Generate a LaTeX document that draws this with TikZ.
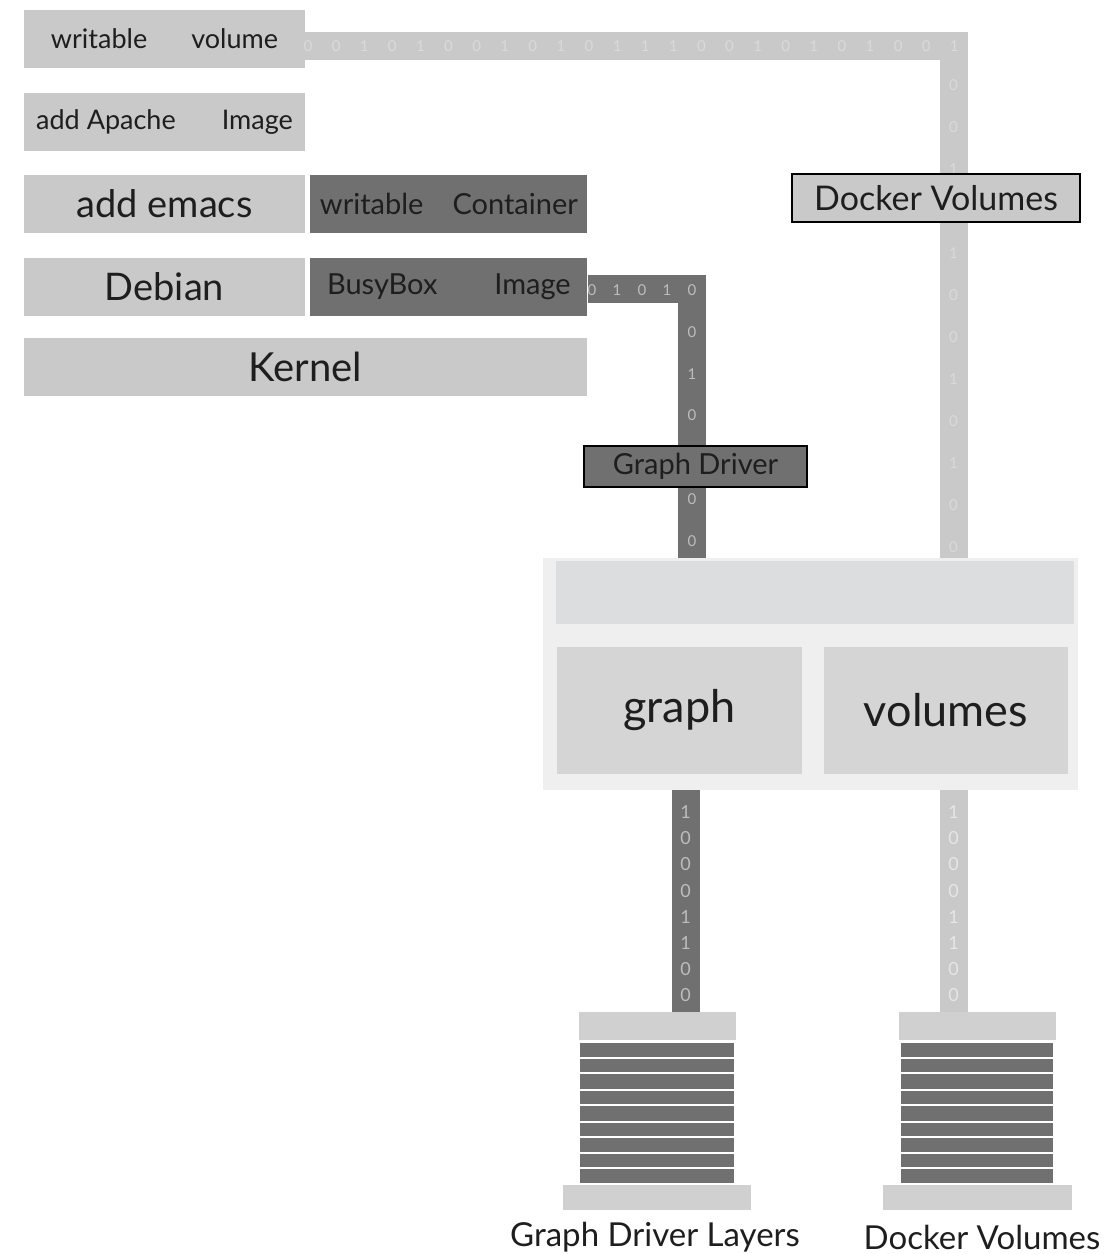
\documentclass[tikz,border=0pt]{standalone}
\usepackage{fontspec}
\setmainfont{Lato}
\usetikzlibrary{positioning}

\definecolor{layerlight}{HTML}{C9C9C9}
\definecolor{layerdark}{HTML}{707070}
\definecolor{hostbg}{HTML}{EFEFEF}
\definecolor{hostbar}{HTML}{DCDDDF}
\definecolor{hostdir}{HTML}{D5D5D5}
\definecolor{stackcap}{HTML}{D0D0D0}
\definecolor{inkgray}{HTML}{1E1E1E}
\definecolor{bitlight}{HTML}{DADADA}
\definecolor{bitpale}{HTML}{E6E6E6}
\definecolor{bitdark}{HTML}{BDBDBD}

\newcommand{\fsz}[1]{\fontsize{#1}{#1}\selectfont}

\tikzset{
  layer/.style={
    rectangle,
    inner sep=0pt,
    minimum height=58pt,
    fill=layerlight,
    text=inkgray,
  },
  layer dark/.style={layer, fill=layerdark},
  tag box/.style={
    rectangle,
    draw=black,
    line width=1.6pt,
    inner sep=0pt,
    text=inkgray,
  },
  host dir/.style={rectangle, inner sep=0pt, fill=hostdir, text=inkgray, font=\fsz{45}},
  stack cap/.style={rectangle, inner sep=0pt, fill=stackcap},
  stack body/.style={rectangle, inner sep=0pt, fill=layerdark},
  bus light/.style={draw=layerlight, line width=28pt},
  bus dark/.style={draw=layerdark, line width=28pt},
  bit light/.style={inner sep=0pt, text=bitlight, font=\fsz{15}},
  bit dark/.style={inner sep=0pt, text=bitdark, font=\fsz{15}},
  caption/.style={inner sep=0pt, text=inkgray, font=\fsz{33}},
}

\begin{document}
\begin{tikzpicture}[x=1pt,y=-1pt]
  \useasboundingbox (0,0) rectangle (1116,1254);

  % image layers
  \node[layer, minimum width=281pt, font=\fsz{27}] (wvol) at (164.5,39) {writable\hspace{44pt}volume};
  \node[layer, minimum width=281pt, font=\fsz{27}] (apache) at (164.5,122) {add Apache\hspace{46pt}Image};
  \node[layer, minimum width=281pt, font=\fsz{38}] (emacs) at (164.5,203.5) {add emacs};
  \node[layer, minimum width=281pt, font=\fsz{38}] (debian) at (164.5,286.5) {Debian};
  \node[layer, minimum width=563pt, font=\fsz{40}] (kernel) at (305.5,367) {Kernel};
  \node[layer dark, minimum width=277pt, font=\fsz{29}, right=5pt of emacs] (wcont) {writable\hspace{29pt}Container};
  \node[layer dark, minimum width=277pt, font=\fsz{29}, right=5pt of debian] (bbox) {BusyBox\hspace{57pt}Image};

  % docker host
  \node[rectangle, inner sep=0pt, fill=hostbg, minimum width=535pt, minimum height=232pt] (host) at (810.5,674) {};
  \node[rectangle, inner sep=0pt, fill=hostbar, minimum width=518pt, minimum height=63pt] (hbar) at (815,592.5) {};
  \node[host dir, minimum width=245pt, minimum height=127pt] (graph) at (679.5,710.5) {graph};
  \node[host dir, minimum width=244pt, minimum height=127pt] (vols) at (946,710.5) {volumes};

  % storage stacks
  \node[stack cap, minimum width=157pt, minimum height=28pt] (gcap) at (657.5,1026) {};
  \node[stack body, minimum width=154pt, minimum height=140pt] (glay) at (657,1113) {};
  \node[stack cap, minimum width=188pt, minimum height=25pt] (gbase) at (657,1197.5) {};
  \node[stack cap, minimum width=157pt, minimum height=28pt] (vcap) at (977.5,1026) {};
  \node[stack body, minimum width=152pt, minimum height=140pt] (vlay) at (977,1113) {};
  \node[stack cap, minimum width=189pt, minimum height=25pt] (vbase) at (977.5,1197.5) {};
  \foreach \s in {1058,1073,1090,1105,1122,1137,1153,1168} {
    \draw[white, line width=1.8pt] (glay.west |- 0,\s) -- (glay.east |- 0,\s);
    \draw[white, line width=1.8pt] (vlay.west |- 0,\s) -- (vlay.east |- 0,\s);
  }
  \node[caption] (gcaption) at (655,1237) {Graph Driver Layers};
  \node[caption] (vcaption) at (982,1237) {Docker Volumes};

  % data buses
  \coordinate (vcol) at (953.5,0);
  \coordinate (gcol) at (692,0);
  \coordinate (glow) at (685.5,0);
  \draw[bus light] ([yshift=-7pt]wvol.east) -| (host.north -| vcol);
  \draw[bus dark] ([yshift=-2.5pt]bbox.east) -| (host.north -| gcol);
  \draw[bus dark] (host.south -| glow) -- (gcap.north -| glow);
  \draw[bus light] (host.south -| vcol) -- (vcap.north -| vcol);

  \foreach \b [count=\i from 0] in {0,0,1,0,1,0,0,1,0,1,0,1,1,1,0,0,1,0,1,0,1,0,0,1}
    \node[bit light] (th\i) at (308+28.1*\i,46) {\b};
  \foreach \y/\b [count=\i] in {85.5/0,127.5/0,169.5/1,253.5/1,295.5/0,337.5/0,379.5/1,421.5/0,463.5/1,505.5/0,547.5/0}
    \node[bit light] (tv\i) at (953.5,\y) {\b};
  \foreach \b [count=\i from 0] in {0,1,0,1}
    \node[bit dark] (dh\i) at (592+25*\i,290) {\b};
  \foreach \y/\b [count=\i] in {290/0,332/0,374/1,415/0,499/0,541/0}
    \node[bit dark] (dv\i) at (692,\y) {\b};
  \foreach \b [count=\i from 0] in {1,0,0,0,1,1,0,0} {
    \node[bit dark, font=\fsz{18}] (gl\i) at (685.5,812+26.2*\i) {\b};
    \node[bit light, text=bitpale, font=\fsz{18}] (vl\i) at (953.5,812+26.2*\i) {\b};
  }

  % driver tags
  \node[tag box, fill=layerlight, minimum width=288pt, minimum height=48pt, font=\fsz{34}] (dvtag) at (936,198) {Docker Volumes};
  \node[tag box, fill=layerdark, minimum width=223pt, minimum height=41pt, font=\fsz{29}] (gdtag) at (695.5,466.5) {Graph Driver};
\end{tikzpicture}
\end{document}
